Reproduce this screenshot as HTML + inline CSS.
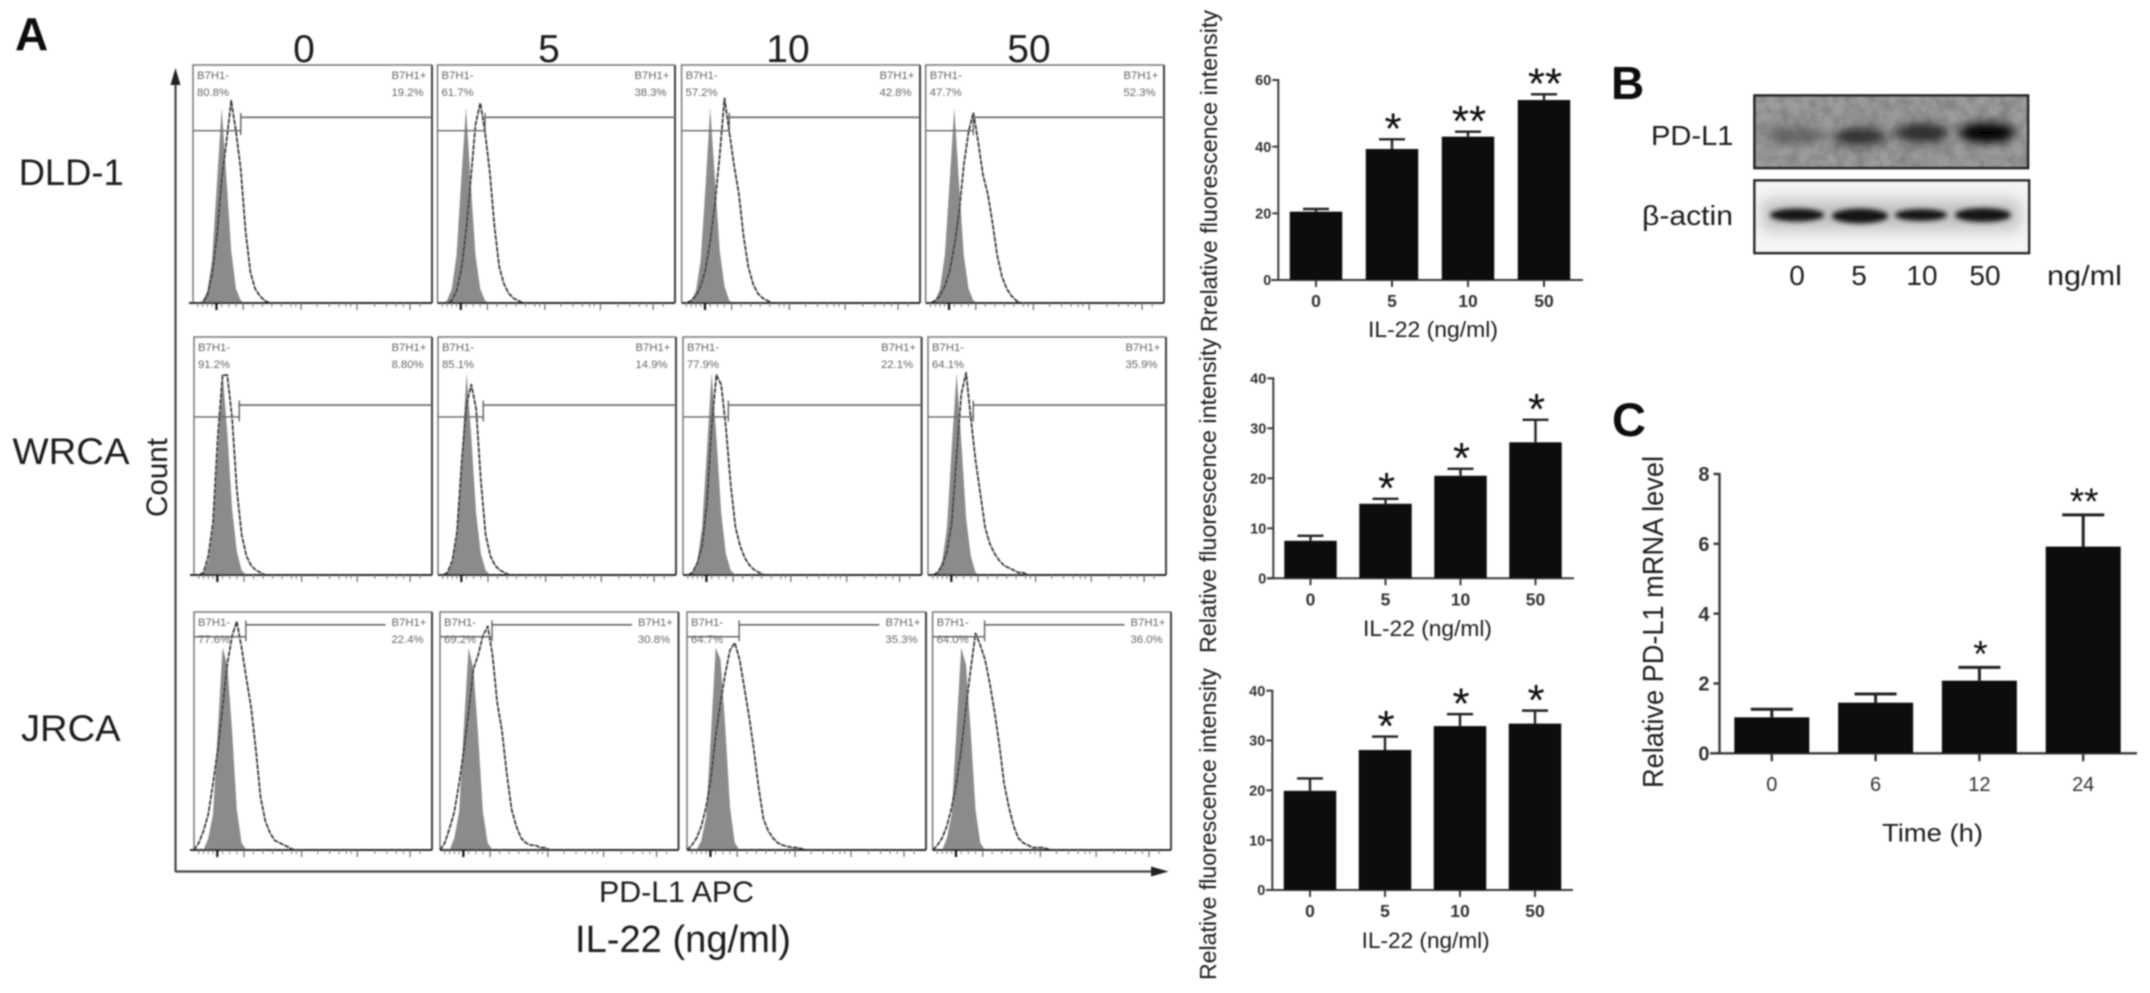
<!DOCTYPE html>
<html lang="en">
<head>
<meta charset="utf-8">
<title>IL-22 induces PD-L1 expression</title>
<style>
html,body{margin:0;padding:0;background:#fff}
svg{display:block}
text{font-family:"Liberation Sans",sans-serif;fill:#1c1c1c}
</style>
</head>
<body>
<svg id="figure" xmlns="http://www.w3.org/2000/svg" width="2150" height="993" viewBox="0 0 2150 993">
<defs>
<filter id="soft" filterUnits="userSpaceOnUse" x="0" y="0" width="2150" height="993"><feGaussianBlur stdDeviation="0.8"/></filter>
<filter id="bandBlur" x="-40%" y="-80%" width="180%" height="260%"><feGaussianBlur stdDeviation="5"/></filter>
<filter id="bandBlur2" x="-40%" y="-80%" width="180%" height="260%"><feGaussianBlur stdDeviation="2.5"/></filter>
<filter id="haloBlur" x="-20%" y="-80%" width="140%" height="260%"><feGaussianBlur stdDeviation="8"/></filter>
<filter id="mottle" filterUnits="userSpaceOnUse" x="1754" y="95" width="276" height="75">
<feTurbulence type="fractalNoise" baseFrequency="0.09" numOctaves="3" seed="7"/>
<feColorMatrix type="matrix" values="0 0 0 0 0.2  0 0 0 0 0.2  0 0 0 0 0.2  1.6 0 0 0 -0.5"/>
</filter>
<clipPath id="blotClip1"><rect x="1754.5" y="95.5" width="273.5" height="72.5"/></clipPath>
<clipPath id="blotClip2"><rect x="1754.5" y="180.5" width="274.5" height="72.5"/></clipPath>
</defs>
<rect width="2150" height="993" fill="#fff"/>
<g id="root" filter="url(#soft)">

<text x="15" y="50" font-size="46" font-weight="bold" fill="#111" style="fill:#111">A</text>
<text x="304" y="62" font-size="39" text-anchor="middle">0</text>
<text x="549" y="62" font-size="39" text-anchor="middle">5</text>
<text x="788" y="62" font-size="39" text-anchor="middle">10</text>
<text x="1029" y="62" font-size="39" text-anchor="middle">50</text>
<text x="18.7" y="185" font-size="37" textLength="105" lengthAdjust="spacingAndGlyphs">DLD-1</text>
<text x="12.5" y="464" font-size="37" textLength="117" lengthAdjust="spacingAndGlyphs">WRCA</text>
<text x="21" y="741" font-size="37" textLength="99.5" lengthAdjust="spacingAndGlyphs">JRCA</text>
<text transform="rotate(-90 167 517)" x="167" y="517" font-size="30" textLength="79" lengthAdjust="spacingAndGlyphs">Count</text>
<text x="599" y="902" font-size="30" textLength="155" lengthAdjust="spacingAndGlyphs">PD-L1 APC</text>
<text x="575" y="952" font-size="38" textLength="216" lengthAdjust="spacingAndGlyphs">IL-22 (ng/ml)</text>

<line x1="175.5" y1="80" x2="175.5" y2="872" stroke="#444" stroke-width="2.2"/>
<polygon points="175.5,68 170.5,85 180.5,85" fill="#222"/>
<line x1="175.5" y1="871.5" x2="1156" y2="871.5" stroke="#444" stroke-width="2.2"/>
<polygon points="1168.6,871.5 1151,866.5 1151,876.5" fill="#222"/>

<g id="histograms"></g>

<text transform="rotate(-90 1217 332)" x="1217" y="332" font-size="23" textLength="322" lengthAdjust="spacingAndGlyphs">Rrelative fluorescence intensity</text>
<text x="1368" y="337" font-size="22" textLength="130" lengthAdjust="spacingAndGlyphs">IL-22 (ng/ml)</text>
<text transform="rotate(-90 1216 653)" x="1216" y="653" font-size="23" textLength="315" lengthAdjust="spacingAndGlyphs">Relative fluorescence intensity</text>
<text x="1363" y="636" font-size="22" textLength="129" lengthAdjust="spacingAndGlyphs">IL-22 (ng/ml)</text>
<text transform="rotate(-90 1216 980)" x="1216" y="980" font-size="23" textLength="312" lengthAdjust="spacingAndGlyphs">Relative fluorescence intensity</text>
<text x="1361.7" y="948" font-size="22" textLength="128" lengthAdjust="spacingAndGlyphs">IL-22 (ng/ml)</text>

<g id="bar-charts"></g>

<text x="1611" y="99" font-size="46" font-weight="bold" style="fill:#111">B</text>
<text x="1651" y="145" font-size="28" textLength="82.5" lengthAdjust="spacingAndGlyphs">PD-L1</text>
<text x="1642" y="225" font-size="28" textLength="91" lengthAdjust="spacingAndGlyphs">β-actin</text>

<g clip-path="url(#blotClip1)">
<rect x="1754.5" y="95.5" width="274" height="73" fill="#9c9c9c"/>
<rect x="1754.5" y="95.5" width="274" height="73" filter="url(#mottle)"/>
<ellipse cx="1794.5" cy="135" rx="30" ry="9" fill="#4a4a4a" opacity=".6" filter="url(#bandBlur)"/>
<ellipse cx="1860" cy="136.7" rx="26" ry="8" fill="#1c1c1c" opacity=".9" filter="url(#bandBlur)"/>
<ellipse cx="1922" cy="133" rx="27" ry="9" fill="#1c1c1c" opacity=".9" filter="url(#bandBlur)"/>
<ellipse cx="1987" cy="132.7" rx="28" ry="10" fill="#000" filter="url(#bandBlur)"/>
</g>
<rect x="1754.5" y="95.5" width="273.5" height="72.5" fill="none" stroke="#222" stroke-width="2.6"/>

<g clip-path="url(#blotClip2)">
<rect x="1754.5" y="180.5" width="274.5" height="72.5" fill="#f6f6f6"/>
<rect x="1762" y="200" width="258" height="30" fill="#bdbdbd" filter="url(#haloBlur)"/>
<ellipse cx="1797" cy="215" rx="27" ry="6.5" fill="#161616" filter="url(#bandBlur2)"/>
<ellipse cx="1860" cy="216" rx="28" ry="7.5" fill="#161616" filter="url(#bandBlur2)"/>
<ellipse cx="1921" cy="215" rx="26" ry="6" fill="#161616" filter="url(#bandBlur2)"/>
<ellipse cx="1983" cy="215" rx="28" ry="7" fill="#161616" filter="url(#bandBlur2)"/>
</g>
<rect x="1754.5" y="180.5" width="274.5" height="72.5" fill="none" stroke="#222" stroke-width="2.6"/>

<text x="1797" y="285" font-size="28" text-anchor="middle">0</text>
<text x="1859" y="285" font-size="28" text-anchor="middle">5</text>
<text x="1922" y="285" font-size="28" text-anchor="middle">10</text>
<text x="1985" y="285" font-size="28" text-anchor="middle">50</text>
<text x="2047" y="285" font-size="28" textLength="75" lengthAdjust="spacingAndGlyphs">ng/ml</text>

<text x="1612" y="436" font-size="47" font-weight="bold" style="fill:#111">C</text>
<text transform="rotate(-90 1663 788)" x="1663" y="788" font-size="28.5" textLength="332" lengthAdjust="spacingAndGlyphs">Relative PD-L1 mRNA level</text>
<text x="1882" y="841.7" font-size="25" textLength="101" lengthAdjust="spacingAndGlyphs">Time (h)</text>
</g>
</svg>
<script>
// ---- Bar chart data ----
const doseCategories = ['0', '5', '10', '50'];
const dld1Values = [20.5, 39.3, 43, 54];
const dld1Errors = [0.8, 2.9, 1.5, 1.7];
const dld1Stars = ['', '*', '**', '**'];
const dld1Ticks = [0, 20, 40, 60];
const wrcaValues = [7.5, 14.9, 20.5, 27.2];
const wrcaErrors = [1.0, 1.0, 1.4, 4.5];
const wrcaStars = ['', '*', '*', '*'];
const wrcaTicks = [0, 10, 20, 30, 40];
const jrcaValues = [19.9, 28.1, 32.9, 33.4];
const jrcaErrors = [2.5, 2.7, 2.4, 2.6];
const jrcaStars = ['', '*', '*', '*'];
const jrcaTicks = [0, 10, 20, 30, 40];
const timeCategories = ['0', '6', '12', '24'];
const mrnaValues = [1.03, 1.45, 2.08, 5.92];
const mrnaErrors = [0.23, 0.25, 0.38, 0.91];
const mrnaStars = ['', '', '*', '**'];
const mrnaTicks = [0, 2, 4, 6, 8];

// ---- Flow histogram data: counts (% of panel height) per channel ----
const histChannels = [0,2,4,6,8,10,12,14,16,18,20,22,24,26,28,30,32,34,36,38,40,42,44,46,48,50,100];
const histMajorTicks = [9.8, 21, 45.2, 68.6, 90.8];
const histMinorTicks = [2, 4, 6, 8, 12, 15, 18, 25, 29, 33, 37, 41, 43, 52, 57, 61, 64, 66, 76, 81, 85, 88, 95];
const cellLines = ['dld1', 'wrca', 'jrca'];
const doseLabels = ['0', '5', '10', '50'];
const isotypeDld1 = [
  [0,0,1,5,18,50,82,52,22,6,1],
  [0,0,1,6,20,52,82,50,20,6,1],
  [0,0,1,5,18,48,82,52,22,7,1],
  [0,0,1,6,20,50,82,50,20,6,1]
];
const stainedDld1 = [
  [0,0,0,3,12,28,52,68,85,72,56,30,13,6,3,1],
  [0,0,0,1,5,14,30,52,75,84,72,55,32,15,8,4,2,1],
  [0,0,1,3,7,14,26,42,62,86,72,58,46,28,15,8,4,2,1],
  [0,0,1,3,7,13,24,38,58,72,80,68,54,46,34,20,11,6,3,1]
];
const isotypeWrca = [
  [0,0,1,6,20,52,85,60,28,10,2],
  [0,0,1,5,18,50,85,58,26,9,2],
  [0,0,1,6,20,52,85,58,26,9,2],
  [0,0,1,6,20,54,85,56,24,8,1]
];
const stainedWrca = [
  [0,0,1,8,22,58,84,84,66,36,17,8,4,2,1],
  [0,0,1,6,18,48,72,80,70,40,17,8,4,2,1],
  [0,0,1,5,12,30,62,84,80,62,38,20,12,7,4,2,1],
  [0,0,1,4,10,22,50,76,85,66,48,34,20,13,9,6,4,3,2,1,1]
];
const isotypeJrca = [
  [0,0,0,5,15,50,85,78,50,17,3],
  [0,0,0,5,16,52,85,76,48,16,3],
  [0,0,0,4,14,48,85,80,52,18,3],
  [0,0,0,5,15,50,85,78,50,17,3]
];
const stainedJrca = [
  [0,3,8,15,28,42,60,78,90,96,85,72,60,42,22,12,7,4,3,2,1],
  [0,3,9,16,28,42,58,76,82,90,94,82,62,50,32,17,10,5,3,2,2,1,1],
  [0,2,5,10,18,30,48,62,74,84,87,80,68,56,42,26,13,8,5,3,2,1.5,1,1,0.5],
  [0,2,5,10,18,28,42,60,76,91,86,80,70,58,44,28,18,10,5,3,2,1,1,1,0.5]
];
const negPercentDld1 = ['80.8%', '61.7%', '57.2%', '47.7%'];
const posPercentDld1 = ['19.2%', '38.3%', '42.8%', '52.3%'];
const negPercentWrca = ['91.2%', '85.1%', '77.9%', '64.1%'];
const posPercentWrca = ['8.80%', '14.9%', '22.1%', '35.9%'];
const negPercentJrca = ['77.6%', '69.2%', '64.7%', '64.0%'];
const posPercentJrca = ['22.4%', '30.8%', '35.3%', '36.0%'];
const isotypeRows = [isotypeDld1, isotypeWrca, isotypeJrca];
const stainedRows = [stainedDld1, stainedWrca, stainedJrca];
const negRows = [negPercentDld1, negPercentWrca, negPercentJrca];
const posRows = [posPercentDld1, posPercentWrca, posPercentJrca];

// ---- Layout (not data) ----
const rowFrames = [
  {top: 65, base: 303, left: [193, 437.5, 681.6, 925.7], right: [432, 675, 920, 1164], gateCh: 20, negLevel: 72.4, posLevel: 78, posEnd: 1, labelOff: 0},
  {top: 337, base: 575, left: [194, 438, 683, 928], right: [432, 676, 921.6, 1166], gateCh: 19, negLevel: 66.4, posLevel: 71.4, posEnd: 1, labelOff: 0},
  {top: 612, base: 850, left: [194, 440, 687, 932.6], right: [432, 678.5, 926, 1171], gateCh: 21.8, negLevel: 89.6, posLevel: 94.6, posEnd: 0.805, labelOff: 0}
];

const SVGNS = 'http://www.w3.org/2000/svg';
function svgEl(tag, attrs, parent) {
  const el = document.createElementNS(SVGNS, tag);
  for (const k in attrs) el.setAttribute(k, attrs[k]);
  parent.appendChild(el);
  return el;
}

function drawPanel(parent, r, c) {
  const f = rowFrames[r];
  const L = f.left[c], R = f.right[c], T = f.top, B = f.base;
  const xScale = ch => L + ch / 100 * (R - L);
  const yScale = v => B - v / 100 * (B - T);
  const id = cellLines[r] + '-' + doseLabels[c];
  const g = svgEl('g', {}, parent);
  
  

  const pad = arr => histChannels.map((ch, i) => i < arr.length ? arr[i] : 0);
  const iso = pad(isotypeRows[r][c]);
  const sta = pad(stainedRows[r][c]);

  let area = 'M' + xScale(0) + ' ' + yScale(0);
  histChannels.forEach((ch, i) => { area += ' L' + xScale(ch).toFixed(1) + ' ' + yScale(iso[i]).toFixed(1); });
  area += ' L' + xScale(100) + ' ' + yScale(0) + ' Z';
  const isoPath = svgEl('path', {d: area, fill: '#8b8b8b', stroke: 'none'}, g);
  
  

  const frame = svgEl('path', {d: 'M' + L + ' ' + B + ' V' + T + ' H' + R, fill: 'none', stroke: '#777', 'stroke-width': 1.5}, g);
  
  
  const frameR = svgEl('line', {x1: R, y1: T, x2: R, y2: B, stroke: '#3c3c3c', 'stroke-width': 2}, g);
  
  

  const pts = histChannels.map((ch, i) => xScale(ch).toFixed(1) + ',' + yScale(sta[i]).toFixed(1)).join(' ');
  const line = svgEl('polyline', {points: pts, fill: 'none', stroke: '#333', 'stroke-width': 1.7, 'stroke-dasharray': '5 1', 'stroke-linejoin': 'round'}, g);
  
  

  const baseline = svgEl('line', {x1: L - (c === 0 ? 4 : 0), y1: B, x2: R, y2: B, stroke: '#2a2a2a', 'stroke-width': 2}, g);
  
  

  histMajorTicks.forEach((ch, i) => {
    const t = svgEl('line', {x1: xScale(ch), y1: B, x2: xScale(ch), y2: B + 7, stroke: i === 0 ? '#111' : '#666', 'stroke-width': i === 0 ? 2.2 : 1.2}, g);
    
    
  });
  histMinorTicks.forEach(ch => {
    const t = svgEl('line', {x1: xScale(ch), y1: B, x2: xScale(ch), y2: B + 4, stroke: '#777', 'stroke-width': 1}, g);
    
    
  });

  const gx = xScale(f.gateCh), negY = yScale(f.negLevel), posY = yScale(f.posLevel);
  const negGate = svgEl('line', {x1: L, y1: negY, x2: gx, y2: negY, stroke: '#666', 'stroke-width': 1.4}, g);
  
  
  const posGate = svgEl('line', {x1: gx, y1: posY, x2: L + (R - L) * f.posEnd, y2: posY, stroke: '#666', 'stroke-width': 1.6}, g);
  
  
  const gateTick = svgEl('line', {x1: gx, y1: posY - 4.5, x2: gx, y2: negY + 4.5, stroke: '#555', 'stroke-width': 1.3}, g);
  
  

  const addLabel = (txt, x, y, name) => {
    const t = svgEl('text', {x: x, y: y, 'font-size': 11.3, style: 'fill:#666'}, g);
    t.textContent = txt;
    
    
  };
  addLabel('B7H1-', L + 4, T + 14, 'negative-gate-label-' + id);
  addLabel(negRows[r][c], L + 4, T + 31, 'negative-percent-' + id);
  addLabel('B7H1+', R - 40.5, T + 14, 'positive-gate-label-' + id);
  addLabel(posRows[r][c], R - 40.5, T + 31, 'positive-percent-' + id);
}

function drawBarChart(parent, name, o, categories, values, errors, stars, ticks) {
  const xScale = i => o.firstCenter + i * o.step;
  const yScale = v => o.y0 - v / o.yMax * (o.y0 - o.yTop);
  const g = svgEl('g', {}, parent);
  
  

  const yAxis = svgEl('line', {x1: o.axisX, y1: yScale(o.yMax) - 1, x2: o.axisX, y2: o.y0, stroke: '#3a3a3a', 'stroke-width': o.axisW}, g);
  
  
  const xAxis = svgEl('line', {x1: o.xStart, y1: o.y0, x2: o.xEnd, y2: o.y0, stroke: '#3a3a3a', 'stroke-width': o.axisW}, g);
  
  

  ticks.forEach(v => {
    const y = yScale(v);
    const t = svgEl('line', {x1: o.axisX - o.tickLen, y1: y, x2: o.axisX, y2: y, stroke: '#3a3a3a', 'stroke-width': o.axisW}, g);
    
    
    const lab = svgEl('text', {x: o.axisX - o.tickLen - o.labelGap, y: y + o.yFont * 0.36, 'font-size': o.yFont, 'font-weight': 'bold', 'text-anchor': 'end', style: 'fill:#333'}, g);
    lab.textContent = v;
    
    
  });

  categories.forEach((cat, i) => {
    const cx = xScale(i);
    const top = yScale(values[i]);
    const errTop = yScale(values[i] + errors[i]);
    const stem = svgEl('line', {x1: cx, y1: top, x2: cx, y2: errTop, stroke: '#222', 'stroke-width': o.errW}, g);
    
    
    const cap = svgEl('line', {x1: cx - o.capW / 2, y1: errTop, x2: cx + o.capW / 2, y2: errTop, stroke: '#222', 'stroke-width': o.errW}, g);
    
    
    const bar = svgEl('rect', {x: cx - o.barW / 2, y: top, width: o.barW, height: o.y0 - top, fill: '#0e0e0e'}, g);
    
    
    const tick = svgEl('line', {x1: cx, y1: o.y0, x2: cx, y2: o.y0 + o.xTickLen, stroke: '#3a3a3a', 'stroke-width': o.axisW}, g);
    
    
    const lab = svgEl('text', {x: cx, y: o.xLabelY, 'font-size': o.xFont, 'font-weight': o.xWeight, 'text-anchor': 'middle', style: 'fill:#333'}, g);
    lab.textContent = cat;
    
    
    if (stars[i]) {
      const starY = errTop - o.starGap + o.starFont * 0.575;
      const st = svgEl('text', {x: cx + 1, y: starY, 'font-size': o.starFont, 'text-anchor': 'middle', style: 'fill:#111'}, g);
      st.textContent = stars[i];
      
      
    }
  });
}

const histRoot = document.getElementById('histograms');
for (let r = 0; r < 3; r++) {
  for (let c = 0; c < 4; c++) drawPanel(histRoot, r, c);
}

const barRoot = document.getElementById('bar-charts');
const smallStyle = {axisW: 2, tickLen: 6, xTickLen: 7, labelGap: 1, yFont: 14.5, xFont: 17.5, xWeight: 'bold', errW: 2.4, capW: 26, barW: 52.5, starFont: 44, starGap: 21};
drawBarChart(barRoot, 'chart-dld1', Object.assign({axisX: 1278.3, y0: 280, yTop: 80, yMax: 60, firstCenter: 1316, step: 76, xStart: 1271.5, xEnd: 1583, xLabelY: 307}, smallStyle), doseCategories, dld1Values, dld1Errors, dld1Stars, dld1Ticks);
drawBarChart(barRoot, 'chart-wrca', Object.assign({axisX: 1273.3, y0: 578.3, yTop: 378.3, yMax: 40, firstCenter: 1310.5, step: 75, xStart: 1267, xEnd: 1574, xLabelY: 605.7}, smallStyle), doseCategories, wrcaValues, wrcaErrors, wrcaStars, wrcaTicks);
drawBarChart(barRoot, 'chart-jrca', Object.assign({axisX: 1272.3, y0: 890, yTop: 690.7, yMax: 40, firstCenter: 1310, step: 75, xStart: 1266, xEnd: 1573, xLabelY: 917}, smallStyle), doseCategories, jrcaValues, jrcaErrors, jrcaStars, jrcaTicks);
drawBarChart(barRoot, 'chart-mrna', {axisX: 1719.5, y0: 753.3, yTop: 474, yMax: 8, firstCenter: 1771.8, step: 103.8, xStart: 1710, xEnd: 2137, xLabelY: 791, axisW: 2.4, tickLen: 6, xTickLen: 8, labelGap: 4, yFont: 20, xFont: 20, xWeight: 'normal', errW: 3, capW: 42, barW: 75, starFont: 37, starGap: 22}, timeCategories, mrnaValues, mrnaErrors, mrnaStars, mrnaTicks);
</script>
</body>
</html>
